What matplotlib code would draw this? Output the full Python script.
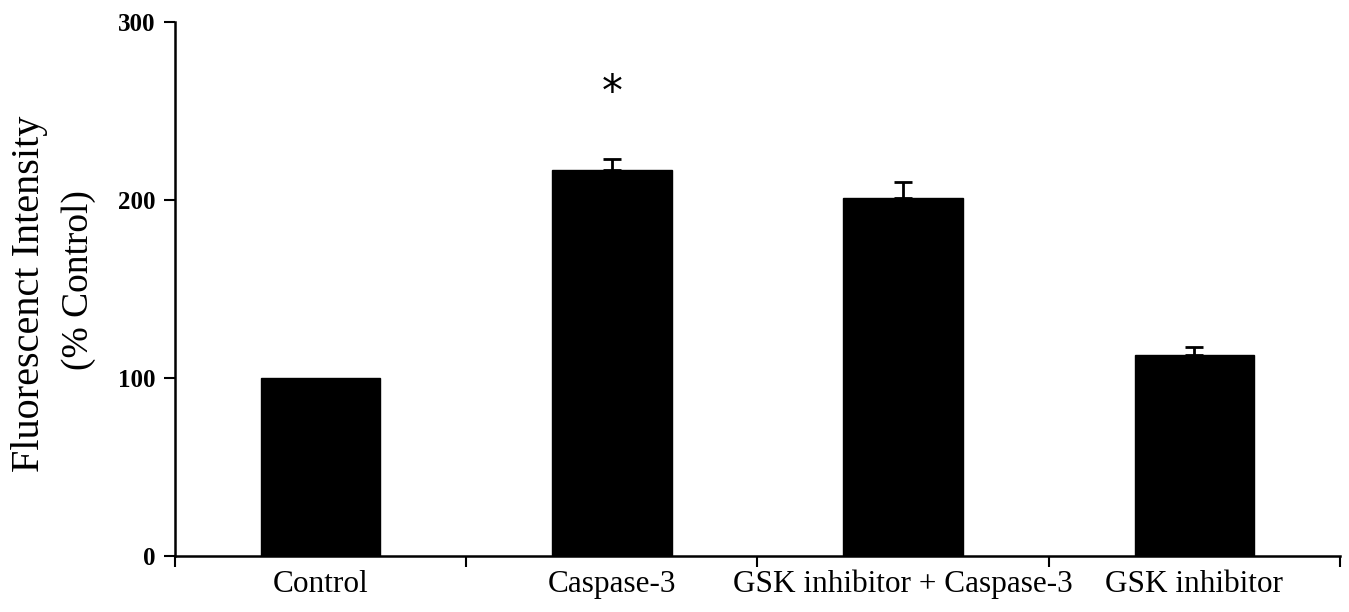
import numpy as np
import matplotlib.pyplot as plt

groups = ["Control", "Caspase-3", "GSK inhibitor + Caspase-3", "GSK inhibitor"]
intensity = [100, 217, 201, 113]
sem = [0, 6, 9, 4.5]
star_y = 260

plt.rcParams["font.family"] = ["Liberation Serif", "DejaVu Serif"]

fig = plt.figure(figsize=(13.49, 6.12), dpi=100)
ax = fig.add_axes([0.1297, 0.0915, 0.8636, 0.8725])

pos = np.arange(len(groups)) + 0.5
ax.bar(pos, intensity, width=0.41, color="black", edgecolor="black", zorder=2)
for x, h, e in zip(pos, intensity, sem):
    if e > 0:
        ax.errorbar(x, h, yerr=[[0], [e]], fmt="none", ecolor="black",
                    elinewidth=2, capsize=6.5, capthick=2, zorder=3)

# significance mark
ax.text(pos[1], star_y, "*", ha="center", va="center", fontsize=30,
        fontfamily="DejaVu Sans")

ax.set_xlim(0, 4)
ax.set_ylim(0, 300)
ax.set_xticks(np.arange(5))
ax.set_xticklabels([])
ax.set_xticks(pos, minor=True)
ax.set_xticklabels(groups, minor=True, fontsize=22.5)
ax.tick_params(axis="x", which="major", length=8, width=1.5, direction="out")
ax.tick_params(axis="x", which="minor", length=0, pad=10)
ax.set_yticks([0, 100, 200, 300])
ax.set_yticklabels(["0", "100", "200", "300"], fontweight="bold", fontsize=18)
ax.tick_params(axis="y", length=8, width=1.5, direction="out", pad=6)

for s in ["top", "right"]:
    ax.spines[s].set_visible(False)
for s in ["left", "bottom"]:
    ax.spines[s].set_linewidth(1.8)

fig.text(0.022, 0.52, "Fluorescenct Intensity", rotation=90, ha="center",
         va="center", fontsize=29)
fig.text(0.0585, 0.5425, "(% Control)", rotation=90, ha="center",
         va="center", fontsize=27)

fig.savefig("out.png", dpi=100)
